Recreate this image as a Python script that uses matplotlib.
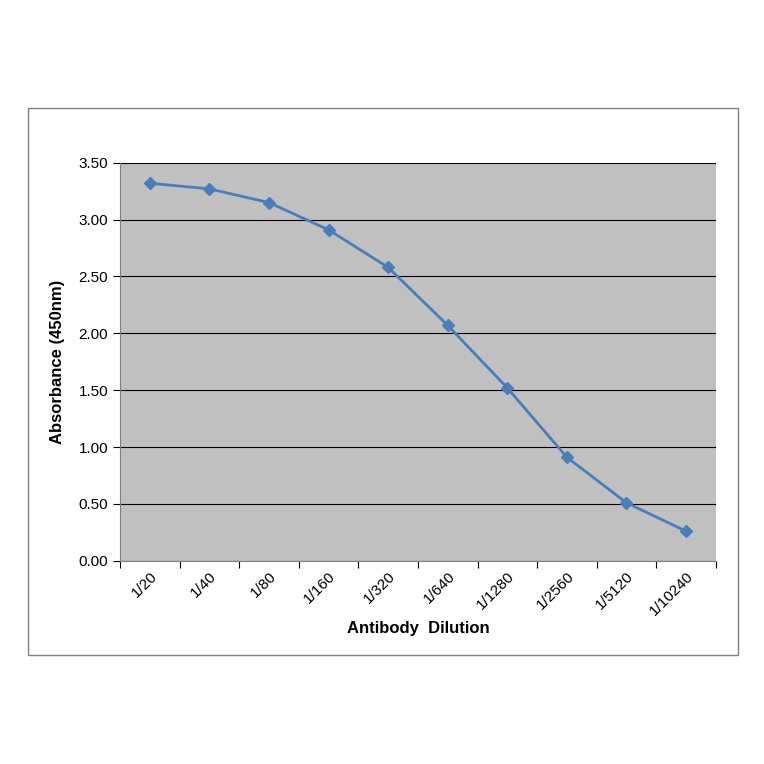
import matplotlib
matplotlib.use("Agg")
import matplotlib.pyplot as plt
from matplotlib.patches import Rectangle

dilutions = ["1/20","1/40","1/80","1/160","1/320","1/640","1/1280","1/2560","1/5120","1/10240"]
absorbance = [3.32, 3.27, 3.15, 2.91, 2.58, 2.07, 1.52, 0.91, 0.51, 0.26]

fig = plt.figure(figsize=(7.64, 7.64), dpi=100)
fig.patches.append(Rectangle((0.037, 0.143), 0.929, 0.716, transform=fig.transFigure,
                             fill=False, edgecolor="#808080", linewidth=1))
ax = fig.add_axes([0.157, 0.266, 0.78, 0.521])
ax.set_facecolor("#c0c0c0")
x = list(range(len(dilutions)))
ax.plot(x, absorbance, color="#4a7ebb", linewidth=2, marker="D", markersize=6,
        markerfacecolor="#4a7ebb", markeredgecolor="#4a7ebb")
ax.set_xlim(-0.5, len(dilutions) - 0.5)
ax.set_ylim(0, 3.5)
ax.set_yticks([i * 0.5 for i in range(8)])
ax.set_yticklabels([f"{i*0.5:.2f}" for i in range(8)], fontsize=11, family="Liberation Sans")
ax.set_xticks([i + 0.5 for i in range(-1, len(dilutions))], minor=False)
ax.set_xticklabels([""] * (len(dilutions) + 1))
ax.set_xticks(x, minor=True)
ax.set_xticklabels(dilutions, minor=True, rotation=45, ha="right", rotation_mode="anchor",
                   fontsize=11, family="Liberation Sans")
ax.tick_params(axis="x", which="minor", length=0, pad=6)
ax.tick_params(axis="x", which="major", length=5, direction="out")
ax.tick_params(axis="y", length=5, direction="out")
ax.grid(axis="y", color="black", linewidth=0.8)
ax.set_axisbelow(True)
for s in ["top", "right"]:
    ax.spines[s].set_visible(False)
ax.spines["left"].set_color("#808080")
ax.spines["bottom"].set_color("#808080")
ax.set_xlabel("Antibody  Dilution", fontsize=12, fontweight="bold", family="Liberation Sans", labelpad=2)
ax.set_ylabel("Absorbance (450nm)", fontsize=12, fontweight="bold", family="Liberation Sans", labelpad=10)
fig.savefig("out.png", dpi=100, facecolor="white")
